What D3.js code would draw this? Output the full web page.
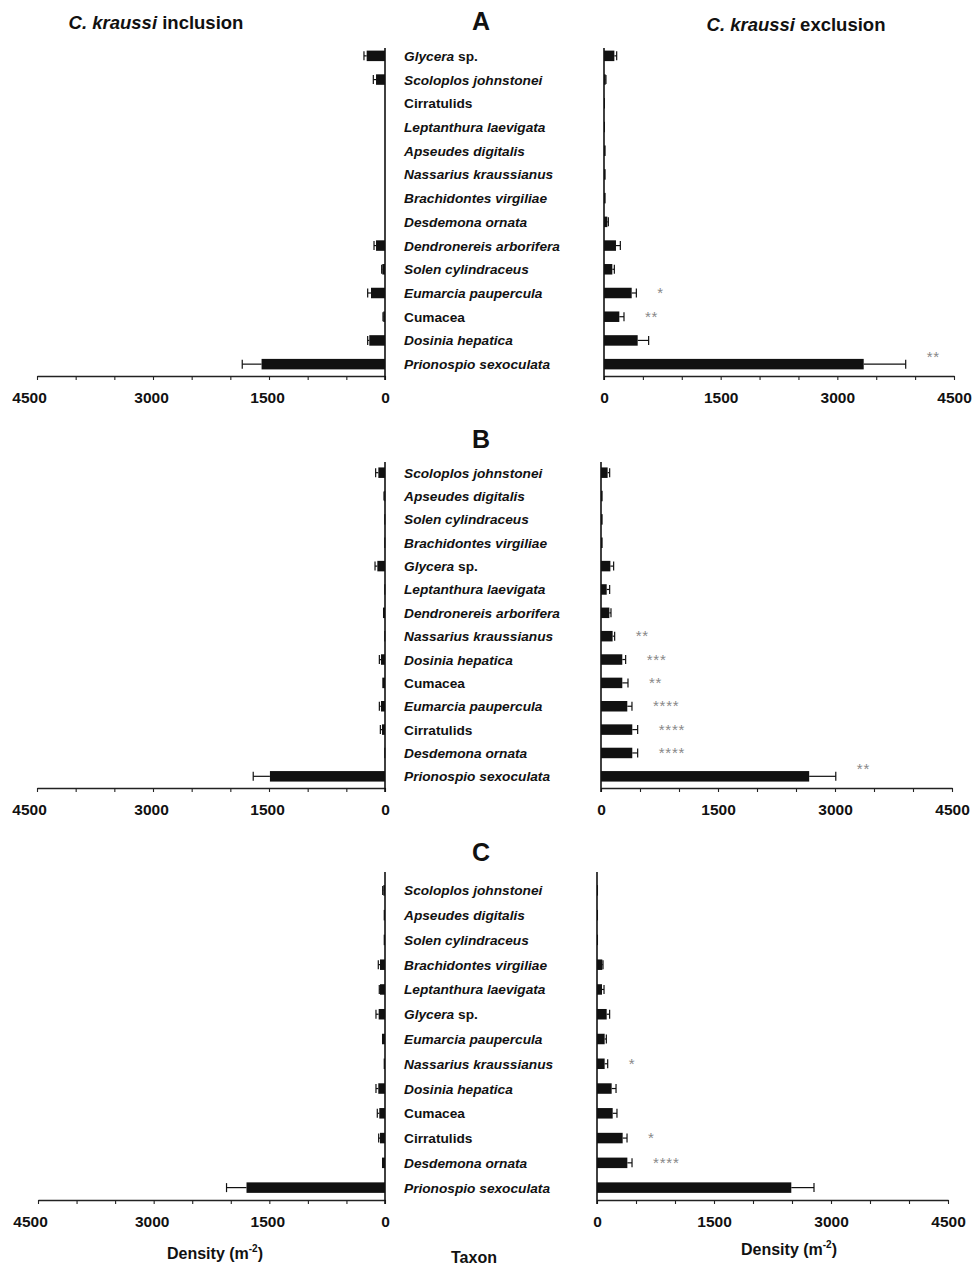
<!DOCTYPE html>
<html><head><meta charset="utf-8">
<script src="https://cdn.jsdelivr.net/npm/d3@7"></script>
<style>
body{margin:0;background:#fff;}
svg{display:block;font-family:"Liberation Sans",Arial,sans-serif;}
</style></head>
<body>
<svg id="chart" width="973" height="1265"></svg>
<script>
// ---------- DATA ----------
const taxaA = ["Glycera sp.","Scoloplos johnstonei","Cirratulids","Leptanthura laevigata","Apseudes digitalis","Nassarius kraussianus","Brachidontes virgiliae","Desdemona ornata","Dendronereis arborifera","Solen cylindraceus","Eumarcia paupercula","Cumacea","Dosinia hepatica","Prionospio sexoculata"];
const inclA    = [237,116,0,0,0,0,0,0,116,35,181,22,203,1596];
const inclErrA = [35,35,0,0,0,0,0,0,26,8,43,4,21,250];
const exclA    = [133,21,8,8,21,21,21,43,154,107,356,197,433,3339];
const exclErrA = [30,4,0,0,0,0,0,13,56,26,60,60,141,540];
const sigA     = ["","","","","","","","","","","*","**","","**"];

const taxaB = ["Scoloplos johnstonei","Apseudes digitalis","Solen cylindraceus","Brachidontes virgiliae","Glycera sp.","Leptanthura laevigata","Dendronereis arborifera","Nassarius kraussianus","Dosinia hepatica","Cumacea","Eumarcia paupercula","Cirratulids","Desdemona ornata","Prionospio sexoculata"];
const inclB    = [86,9,9,9,99,9,26,9,52,35,52,39,9,1488];
const inclErrB = [35,4,0,0,30,0,0,0,21,0,21,21,0,216];
const exclB    = [85,21,21,21,120,73,107,149,273,273,337,401,401,2669];
const exclErrB = [26,0,0,0,42,38,21,26,43,73,60,69,69,341];
const sigB     = ["","","","","","","","**","***","**","****","****","****","**"];

const taxaC = ["Scoloplos johnstonei","Apseudes digitalis","Solen cylindraceus","Brachidontes virgiliae","Leptanthura laevigata","Glycera sp.","Eumarcia paupercula","Nassarius kraussianus","Dosinia hepatica","Cumacea","Cirratulids","Desdemona ornata","Prionospio sexoculata"];
const inclC    = [22,17,17,65,65,82,39,17,87,74,65,39,1796];
const inclErrC = [8,0,0,22,9,35,0,0,30,26,17,0,259];
const exclC    = [13,13,13,68,64,124,98,98,188,201,329,389,2491];
const exclErrC = [0,0,0,9,26,38,22,39,56,55,56,60,291];
const sigC     = ["","","","","","","","*","","","*","****",""];

const tickValues = [0,500,1000,1500,2000,2500,3000,3500,4000,4500];
const tickLabels = [0,1500,3000,4500];
const xMax = 4500;
const nonItalic = ["Cirratulids","Cumacea"];

// ---------- LAYOUT ----------
const panels = [
  {key:"A", taxa:taxaA, incl:inclA, inclErr:inclErrA, excl:exclA, exclErr:exclErrA, sig:sigA,
   top:44, axisY:376, lineTop:48, left:[385,37], right:[604,954], letterY:30},
  {key:"B", taxa:taxaB, incl:inclB, inclErr:inclErrB, excl:exclB, exclErr:exclErrB, sig:sigB,
   top:461, axisY:788, lineTop:462, left:[385,37], right:[601,952], letterY:448},
  {key:"C", taxa:taxaC, incl:inclC, inclErr:inclErrC, excl:exclC, exclErr:exclErrC, sig:sigC,
   top:878, axisY:1200, lineTop:872, left:[385,38], right:[597,948], letterY:861}
];

const svg = d3.select("#chart");
const barColor = "#111";
const labelX = 404;

function addLabel(g, name, y){
  const t = g.append("text").attr("x", labelX).attr("y", y)
    .attr("font-size", 13.7).attr("font-weight", "bold").attr("fill", "#111");
  if (nonItalic.includes(name)) {
    t.text(name);
  } else if (name.endsWith(" sp.")) {
    t.append("tspan").attr("font-style","italic").text(name.replace(" sp.",""));
    t.append("tspan").text(" sp.");
  } else {
    t.attr("font-style","italic").text(name);
  }
}

function drawSide(g, p, x, vals, errs, sigs, y, isLeft){
  const bh = 10.5;
  const rows = p.taxa.map((t,i)=>({t, v:vals[i], e:errs[i], s:sigs ? sigs[i] : ""}));
  // bars
  g.selectAll(null).data(rows).enter().append("rect")
    .attr("x", d => Math.min(x(0), x(d.v)))
    .attr("width", d => Math.max(Math.abs(x(d.v)-x(0)), d.v>0?1:0))
    .attr("y", d => y(d.t) - bh/2)
    .attr("height", bh)
    .attr("fill", barColor);
  // error bars
  const er = rows.filter(d => d.e > 0);
  g.selectAll(null).data(er).enter().append("line")
    .attr("x1", d => x(d.v)).attr("x2", d => x(d.v + d.e))
    .attr("y1", d => y(d.t)).attr("y2", d => y(d.t))
    .attr("stroke", "#111").attr("stroke-width", 1.2);
  g.selectAll(null).data(er).enter().append("line")
    .attr("x1", d => x(d.v + d.e)).attr("x2", d => x(d.v + d.e))
    .attr("y1", d => y(d.t) - 4.5).attr("y2", d => y(d.t) + 4.5)
    .attr("stroke", "#111").attr("stroke-width", 1.2);
  // significance
  if (sigs) {
    const maxV = d3.max(rows, d => d.v);
    g.selectAll(null).data(rows.filter(d => d.s)).enter().append("text")
      .attr("x", d => x(d.v + d.e) + 21)
      .attr("y", d => y(d.t) + 7 - (d.v === maxV ? 9 : 2))
      .attr("font-size", 15).attr("fill", "#888").attr("letter-spacing", 0.8)
      .text(d => d.s);
  }
  // horizontal axis
  const axis = d3.axisBottom(x).tickValues(tickValues)
    .tickFormat(d => tickLabels.includes(d) ? d : "")
    .tickSize(4).tickSizeOuter(0).tickPadding(12);
  const ag = g.append("g").attr("transform", `translate(0,${p.axisY})`).call(axis);
  ag.select(".domain").attr("stroke", "#222").attr("stroke-width", 1.3);
  ag.selectAll(".tick line").attr("stroke", "#222").attr("stroke-width", 1.1);
  ag.selectAll(".tick text").attr("font-size", 15.5).attr("font-weight", "bold")
    .attr("fill", "#111").attr("font-family", '"Liberation Sans",Arial,sans-serif')
    .attr("dx", d => isLeft ? (d === xMax ? -8 : (d === 0 ? 0 : -2)) : 0);
  // vertical axis
  g.append("line").attr("x1", x(0)).attr("x2", x(0))
    .attr("y1", p.lineTop).attr("y2", p.axisY + 4)
    .attr("stroke", "#111").attr("stroke-width", 1.6);
}

panels.forEach(p => {
  const g = svg.append("g");
  const y = d3.scalePoint().domain(p.taxa).range([p.top, p.axisY]).padding(0.5);
  const xL = d3.scaleLinear().domain([0, xMax]).range(p.left);
  const xR = d3.scaleLinear().domain([0, xMax]).range(p.right);
  drawSide(g, p, xL, p.incl, p.inclErr, null, y, true);
  drawSide(g, p, xR, p.excl, p.exclErr, p.sig, y, false);
  p.taxa.forEach(t => addLabel(g, t, y(t) + 5));
  g.append("text").attr("x", 481).attr("y", p.letterY).attr("text-anchor", "middle")
    .attr("font-size", 25).attr("font-weight", "bold").attr("fill", "#111").text(p.key);
});

// titles
function title(x, yy, word){
  const t = svg.append("text").attr("x", x).attr("y", yy).attr("text-anchor","middle")
    .attr("font-size", 18.5).attr("font-weight","bold").attr("fill","#111");
  t.append("tspan").attr("font-style","italic").text("C. kraussi");
  t.append("tspan").text(" " + word);
}
title(156, 29, "inclusion");
title(796, 31, "exclusion");

function densityLabel(x, yy){
  const t = svg.append("text").attr("x", x).attr("y", yy).attr("text-anchor","middle")
    .attr("font-size", 16).attr("font-weight","bold").attr("fill","#111");
  t.append("tspan").text("Density (m");
  t.append("tspan").attr("font-size", 10).attr("dy", -7).text("-2");
  t.append("tspan").attr("dy", 7).text(")");
}
densityLabel(215, 1259);
densityLabel(789, 1255);
svg.append("text").attr("x", 474).attr("y", 1263).attr("text-anchor","middle")
  .attr("font-size", 16).attr("font-weight","bold").attr("fill","#111").text("Taxon");
</script>
</body></html>
